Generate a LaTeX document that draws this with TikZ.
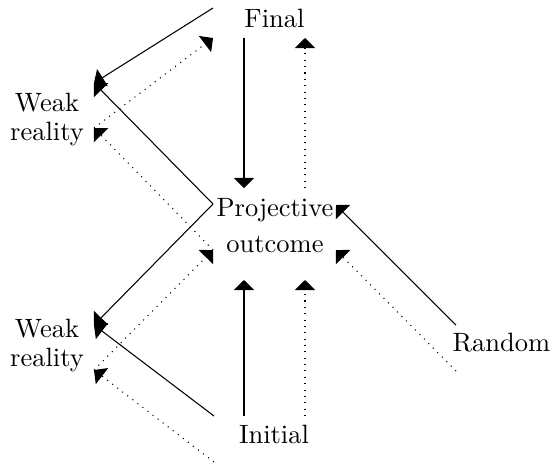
\documentclass[tikz,border=0pt]{standalone}
\usetikzlibrary{arrows.meta}
\begin{document}
\begin{tikzpicture}[x=0.3774pt,y=-0.3774pt,
  lbl/.style={inner sep=0pt,anchor=base,align=center},
  sol/.style={-{Triangle[length=3.8pt,width=7.6pt]},line width=0.4pt},
  dot/.style={sol,dotted}]
\useasboundingbox (0,0) rectangle (553,466);
% labels (base anchor = baseline of the last line)
\node[lbl] (F) at (274.5,27.3) {Final};
\node[lbl,font=\fontsize{10}{11}\selectfont] (W1) at (47,140.5) {Weak\\reality};
\node[lbl,font=\fontsize{10}{13.85}\selectfont] (P) at (275,252.7) {Projective\\outcome};
\node[lbl,font=\fontsize{10}{11}\selectfont] (W2) at (47,366.3) {Weak\\reality};
\node[lbl] (I) at (274,443.3) {Initial};
\node[lbl] (R) at (501.5,351.7) {Random};
% connection points
\coordinate (Fnw) at (213,8);
\coordinate (Fsw) at (213,38);
\coordinate (Fs1) at (244,38);
\coordinate (Fs2) at (305,38);
\coordinate (W1ne) at (94,83);
\coordinate (W1se) at (94,128);
\coordinate (W2ne) at (94,325);
\coordinate (W2se) at (94,370);
\coordinate (Pnw) at (213,204);
\coordinate (Pw) at (213,250);
\coordinate (Pne) at (336,205);
\coordinate (Pe) at (336,250);
\coordinate (Pn1) at (244,188);
\coordinate (Pn2) at (305,188);
\coordinate (Ps1) at (244,280);
\coordinate (Ps2) at (305,280);
\coordinate (Inw) at (214,416);
\coordinate (Isw) at (214,462);
\coordinate (In1) at (244,416);
\coordinate (In2) at (305,416);
\coordinate (Rnw) at (456,325);
\coordinate (Rsw) at (456,371);
% solid connectors
\draw[sol] (Fnw) -- (W1ne);
\draw[sol] (Pnw) -- (W1ne);
\draw[sol] (Pnw) -- (W2ne);
\draw[sol] (Inw) -- (W2ne);
\draw[sol] (Fs1) -- (Pn1);
\draw[sol] (In1) -- (Ps1);
\draw[sol] (Rnw) -- (Pne);
% dotted connectors
\draw[dot] (W1se) -- (Fsw);
\draw[dot] (Pw) -- (W1se);
\draw[dot] (W2se) -- (Pw);
\draw[dot] (Isw) -- (W2se);
\draw[dot] (Pn2) -- (Fs2);
\draw[dot] (In2) -- (Ps2);
\draw[dot] (Rsw) -- (Pe);
\end{tikzpicture}
\end{document}
